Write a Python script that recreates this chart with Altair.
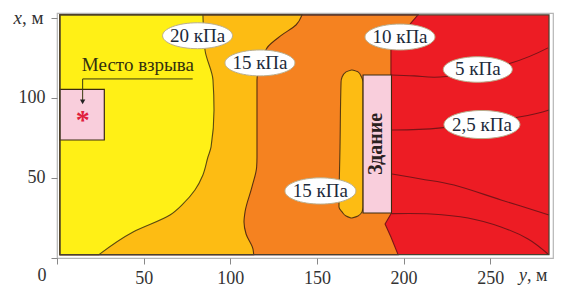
import altair as alt
import pandas as pd

# horizontal coordinate = y, m ; vertical coordinate = x, m
left_edge, right_edge, low_edge, top_edge = 1.7, 283.9, 2.1, 151.9

b20_y = [84.2, 85.4, 90.0, 90.6, 88.9, 87.1, 84.2, 79.6, 72.7, 65.2, 43.9, 24.2]
b20_x = [151.9, 130, 111.3, 92.5, 69.4, 63.1, 51.9, 42.5, 33.8, 26.9, 16.3, 2.1]
b15_y = [141.4, 137.9, 129.8, 121.2, 115.4, 115.4, 115.4, 115.2, 112.5, 108.5, 107.9, 109.1, 113.1, 113.5]
b15_x = [151.9, 145.6, 139.4, 131.3, 111.3, 69.4, 63.1, 56.9, 44.4, 28.8, 22.5, 15, 5.6, 2.1]
b10_y = [208.3, 204.3, 192.7, 192.7, 193, 189.3, 192.7, 196.8]
b10_x = [151.9, 146.9, 130, 114.4, 28.1, 21.3, 13.1, 2.1]

blob_y0 = [169.9, 166.8, 164.5, 163.9, 163.3, 162.7, 164.5, 166.8, 169.6]
blob_y1 = [170.3, 173.7, 175.7, 176.6, 176.6, 176.6, 176.0, 173.7, 170.2]
blob_x = [117.5, 116.3, 113.1, 110, 69.4, 31.9, 28.8, 26.3, 25]

line_5_y = [192.7, 206, 224.5, 262, 283.3]
line_5_x = [114.4, 113.8, 113.4, 121.9, 131.3]
line_25_y = [193.3, 221.6, 266.6, 283.9]
line_25_x = [80, 81.3, 88.1, 92.5]
line_3_y = [193.3, 210, 229.1, 256.2, 283.9]
line_3_x = [52.5, 49.4, 45.6, 36.3, 26.9]
line_4_y = [193.3, 215.8, 237.2, 256.2, 271.8, 283.3]
line_4_x = [27.7, 27.5, 25, 19.4, 11.9, 2.5]

building = dict(y0=176.6, y1=193.0, x0=28.1, x1=114.4)
blast = dict(y0=1.7, y1=27.3, x0=73.75, x1=105.4)
leader_y = [78.3, 14.8, 14.8]
leader_x = [111.9, 111.9, 98.75]

oval_labels = ["20 кПа", "15 кПа", "10 кПа", "5 кПа", "2,5 кПа", "15 кПа"]
oval_y = [81.1, 117.1, 197.9, 242.8, 245.2, 152.0]
oval_x = [138.9, 121.9, 138.1, 117.8, 83.4, 41.9]
oval_w = [70, 70, 70, 69, 76, 71]

x_ticks = [0, 50, 100, 150, 200, 250]
v_ticks = [0, 50, 100, 150]

SERIF = "Liberation Serif"
YELLOW, GOLD, ORANGE, RED, PINK = "#FFF016", "#FDBC13", "#F58220", "#ED1C24", "#F9CEDC"

HS = alt.Scale(domain=[0, 286.2], nice=False, zero=False)
VS = alt.Scale(domain=[0, 153.1], nice=False, zero=False)
HX = alt.X("y:Q", scale=HS, stack=None, axis=alt.Axis(values=x_ticks, title=None, grid=False,
           labelExpr="datum.value == 0 ? '' : datum.label", labelFont=SERIF, labelFontSize=18,
           labelColor="#333", tickColor="#888", tickSize=6, domain=False, labelPadding=5))
VY = alt.Y("x:Q", scale=VS, stack=None, axis=alt.Axis(values=v_ticks, title=None, grid=False,
           labelExpr="datum.value == 50 || datum.value == 100 ? datum.label : ''", labelFont=SERIF,
           labelFontSize=18, labelColor="#333", tickColor="#888", tickSize=6, domain=False, labelPadding=6))


def rect(y0, y1, x0, x1, **kw):
    d = pd.DataFrame({"y": [y0], "y2": [y1], "x": [x0], "x2": [x1]})
    return alt.Chart(d).mark_rect(**kw).encode(x=HX, x2="y2:Q", y=VY, y2="x2:Q")


def region(ys, xs, color, stroke, interp):
    d = pd.DataFrame({"y": ys, "x": xs, "base": [left_edge] * len(ys)})
    return alt.Chart(d).mark_area(orient="horizontal", color=color, stroke=stroke, strokeWidth=1.1,
                                  interpolate=interp).encode(x=HX, x2="base:Q", y=VY)


def contour(ys, xs, color="#7A1418", width=1.1, interp="cardinal"):
    d = pd.DataFrame({"y": ys, "x": xs, "o": range(len(ys))})
    return alt.Chart(d).mark_line(color=color, strokeWidth=width, interpolate=interp).encode(
        x=HX, y=VY, order="o:Q")


def text(label, y, x, size=19, color="#2a2a2a", **kw):
    d = pd.DataFrame({"y": [y], "x": [x], "t": [label]})
    return alt.Chart(d).mark_text(font=SERIF, fontSize=size, color=color, **kw).encode(
        x=HX, y=VY, text="t:N")


def fixed_text(label, px, py, size=19, **kw):
    d = pd.DataFrame({"t": [label]})
    return alt.Chart(d).mark_text(font=SERIF, fontSize=size, color="#333", **kw).encode(
        x=alt.value(px), y=alt.value(py), text="t:N")


base = rect(left_edge, right_edge, low_edge, top_edge, color=RED)
blob_df = pd.DataFrame({"y": blob_y0, "y2": blob_y1, "x": blob_x})
blob = alt.Chart(blob_df).mark_area(orient="horizontal", color=GOLD, stroke="#5a3a10", strokeWidth=1.1,
                                    interpolate="monotone").encode(x=HX, x2="y2:Q", y=VY)

ELLIPSE = "M -1 0 A 1 0.37 0 1 0 1 0 A 1 0.37 0 1 0 -1 0 Z"
ov = pd.DataFrame({"y": oval_y, "x": oval_x, "w": [v * v for v in oval_w], "t": oval_labels})
ovals = alt.Chart(ov).mark_point(shape=ELLIPSE, filled=True, fill="white", stroke="#b9ad8c", strokeWidth=1,
                                 opacity=1).encode(x=HX, y=VY, size=alt.Size("w:Q", scale=None, legend=None))
oval_text = alt.Chart(ov).mark_text(font=SERIF, fontSize=19, color="#1c2a3a").encode(x=HX, y=VY, text="t:N")

arrow = alt.Chart(pd.DataFrame({"y": [leader_y[-1]], "x": [leader_x[-1] - 1.2]})).mark_point(
    shape="triangle-down", filled=True, color="#222", size=28, opacity=1).encode(x=HX, y=VY)

chart = alt.layer(
    base,
    region(b10_y, b10_x, ORANGE, "#7A1418", "linear"),
    region(b15_y, b15_x, GOLD, "#5a3010", "monotone"),
    region(b20_y, b20_x, YELLOW, "#5a4a10", "monotone"),
    blob,
    rect(building["y0"], building["y1"], building["x0"], building["x1"], color=PINK, stroke="#3a2a10", strokeWidth=1.1),
    rect(blast["y0"], blast["y1"], blast["x0"], blast["x1"], color=PINK, stroke="#3a2a10", strokeWidth=1.2),
    contour(line_5_y, line_5_x),
    contour(line_25_y, line_25_x),
    contour(line_3_y, line_3_x),
    contour(line_4_y, line_4_x),
    contour(leader_y, leader_x, color="#3a3a10", width=1, interp="linear"),
    arrow,
    rect(left_edge, right_edge, low_edge, top_edge, fillOpacity=0, stroke="#4a4030", strokeWidth=1.2),
    ovals,
    oval_text,
    text("Место взрыва", 46.7, 120.6, color="#33300f"),
    text("*", 14.8, 88.9, size=28, color="#E0203C", fontWeight="bold", dy=5),
    text("Здание", 185.2, 71.3, size=20, color="#2a2020", fontWeight="bold", angle=270, dy=-2),
    fixed_text("0", -15, 263, size=18),
    fixed_text("x", -35, 5, fontStyle="italic", align="right"),
    fixed_text(", м", -35, 5, align="left"),
    fixed_text("y", 470, 263, size=18, fontStyle="italic", align="right"),
    fixed_text(", м", 470, 263, size=18, align="left"),
).properties(
    width=496, height=245,
    padding={"left": 49, "top": 5, "right": 2, "bottom": 28},
    autosize=alt.AutoSizeParams(type="none"),
).configure_view(stroke="#b5b5b5", strokeWidth=1.2)

chart.save("out.html", embed_options={"renderer": "svg", "actions": False})
